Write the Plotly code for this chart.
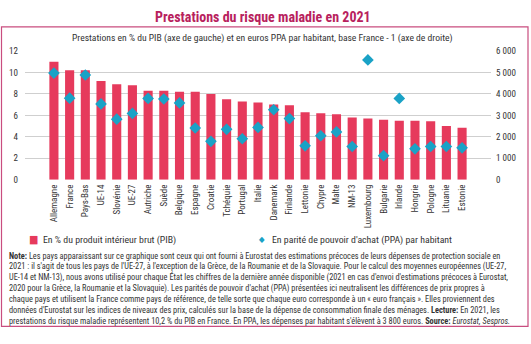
import plotly.graph_objects as go

W, H = 531, 344

categories = ["Allemagne", "France", "Pays-Bas", "UE-14", "Slovénie", "UE-27", "Autriche",
              "Suède", "Belgique", "Espagne", "Croatie", "Tchéquie", "Portugal", "Italie",
              "Danemark", "Finlande", "Lettonie", "Chypre", "Malte", "NM-13", "Luxembourg",
              "Bulgarie", "Irlande", "Hongrie", "Pologne", "Lituanie", "Estonie"]
pib_pct = [11.0, 10.2, 10.2, 9.2, 8.9, 8.8, 8.3, 8.3, 8.2, 8.2, 8.0, 7.5, 7.3, 7.2,
           7.0, 6.95, 6.3, 6.2, 6.1, 5.8, 5.7, 5.6, 5.5, 5.5, 5.45, 5.0, 4.85]
ppa_hab = [4970, 3800, 4880, 3530, 2820, 3090, 3790, 3760, 3580, 2410, 1790, 2350, 1910, 2440,
           3260, 2850, 1580, 2050, 2230, 1550, 5580, 1120, 3790, 1440, 1550, 1550, 1490]

left_ticks = [0, 2, 4, 6, 8, 10, 12]
right_ticks = [0, 1000, 2000, 3000, 4000, 5000, 6000]
right_ticktext = ["0", "1 000", "2 000", "3 000", "4 000", "5 000", "6 000"]

title = "Prestations du risque maladie en 2021"
subtitle = "Prestations en % du PIB (axe de gauche) et en euros PPA par habitant, base France - 1 (axe de droite)"
legend_bar = "En % du produit intérieur brut (PIB)"
legend_pt = "En parité de pouvoir d'achat (PPA) par habitant"
note_lines = [
    "<b>Note:</b> Les pays apparaissant sur ce graphique sont ceux qui ont fourni à Eurostat des estimations précoces de leurs dépenses de protection sociale en",
    "2021 : il s'agit de tous les pays de l'UE-27, à l'exception de la Grèce, de la Roumanie et de la Slovaquie. Pour le calcul des moyennes européennes (UE-27,",
    "UE-14 et NM-13), nous avons utilisé pour chaque État les chiffres de la dernière année disponible (2021 en cas d'envoi d'estimations précoces à Eurostat,",
    "2020 pour la Grèce, la Roumanie et la Slovaquie). Les parités de pouvoir d'achat (PPA) présentées ici neutralisent les différences de prix propres à",
    "chaque pays et utilisent la France comme pays de référence, de telle sorte que chaque euro corresponde à un « euro français ». Elles proviennent des",
    "données d'Eurostat sur les indices de niveaux des prix, calculés sur la base de la dépense de consommation finale des ménages. <b>Lecture:</b> En 2021, les",
    "prestations du risque maladie représentent 10,2 % du PIB en France. En PPA, les dépenses par habitant s'élèvent à 3 800 euros. <b>Source:</b> <i>Eurostat, Sespros.</i>",
]

FONT = "Liberation Sans Narrow, Roboto Condensed, DejaVu Sans Condensed, Arial Narrow, sans-serif"
RED = "#e63a5c"
TEAL = "#1aa2c6"
PINK = "#c94d7f"
TXT = "#333333"


def px(x):
    return x / W


def py(y):
    return 1 - y / H


fig = go.Figure()
fig.add_trace(go.Bar(x=categories, y=pib_pct, marker=dict(color=RED, line=dict(width=0)),
                     name=legend_bar, yaxis="y"))
fig.add_trace(go.Scatter(x=categories, y=ppa_hab, mode="markers", name=legend_pt,
                         marker=dict(symbol="diamond", size=9, color=TEAL, line=dict(width=0)),
                         yaxis="y2"))

fig.update_layout(
    width=W, height=H,
    margin=dict(l=0, r=0, t=0, b=0),
    paper_bgcolor="white", plot_bgcolor="white",
    showlegend=False,
    bargap=0.42,
    font=dict(family=FONT, size=9, color=TXT),
    xaxis=dict(domain=[px(25), px(491)], tickangle=-90, tickfont=dict(size=9, color=TXT),
               showgrid=False, showline=False, ticks="", ticklabelstandoff=2),
    yaxis=dict(domain=[py(180), py(47.3)], range=[0, 12], tickvals=left_ticks,
               showgrid=True, gridcolor="#cfcfcf", gridwidth=1, zeroline=False,
               tickfont=dict(size=9, color=TXT), ticks="", ticklabelstandoff=6),
    yaxis2=dict(overlaying="y", side="right", range=[0, 6000], tickvals=right_ticks,
                ticktext=right_ticktext, showgrid=False, zeroline=False,
                tickfont=dict(size=9, color=TXT), ticks="", ticklabelstandoff=4),
)

shapes = [dict(type="rect", xref="paper", yref="paper", x0=px(1.5), x1=px(528),
               y0=py(331), y1=py(22.5), line=dict(color=PINK, width=1.2))]
fig.update_layout(shapes=shapes)

ann = []
ann.append(dict(text="<b>" + title + "</b>", x=px(263), y=py(12), xref="paper", yref="paper",
                showarrow=False, xanchor="center", yanchor="middle",
                font=dict(family=FONT, size=14, color="#b8215d")))
ann.append(dict(text=subtitle, x=px(262), y=py(34), xref="paper", yref="paper",
                showarrow=False, xanchor="center", yanchor="middle",
                font=dict(family=FONT, size=9.6, color=TXT)))
# legend
ann.append(dict(text="■", x=px(33), y=py(242), xref="paper", yref="paper", showarrow=False,
                xanchor="center", yanchor="middle", font=dict(size=11, color=RED)))
ann.append(dict(text=legend_bar, x=px(41), y=py(242), xref="paper", yref="paper", showarrow=False,
                xanchor="left", yanchor="middle", font=dict(family=FONT, size=9.8, color=TXT)))
ann.append(dict(text="◆", x=px(262), y=py(242), xref="paper", yref="paper", showarrow=False,
                xanchor="center", yanchor="middle", font=dict(size=8, color=TEAL)))
ann.append(dict(text=legend_pt, x=px(270), y=py(242), xref="paper", yref="paper", showarrow=False,
                xanchor="left", yanchor="middle", font=dict(family=FONT, size=9.8, color=TXT)))
for i, line in enumerate(note_lines):
    ann.append(dict(text=line, x=px(7), y=py(258 + i * 11.2), xref="paper", yref="paper",
                    showarrow=False, xanchor="left", yanchor="middle",
                    font=dict(family=FONT, size=8.3, color=TXT)))
fig.update_layout(annotations=ann)

fig.write_html("out.html")
